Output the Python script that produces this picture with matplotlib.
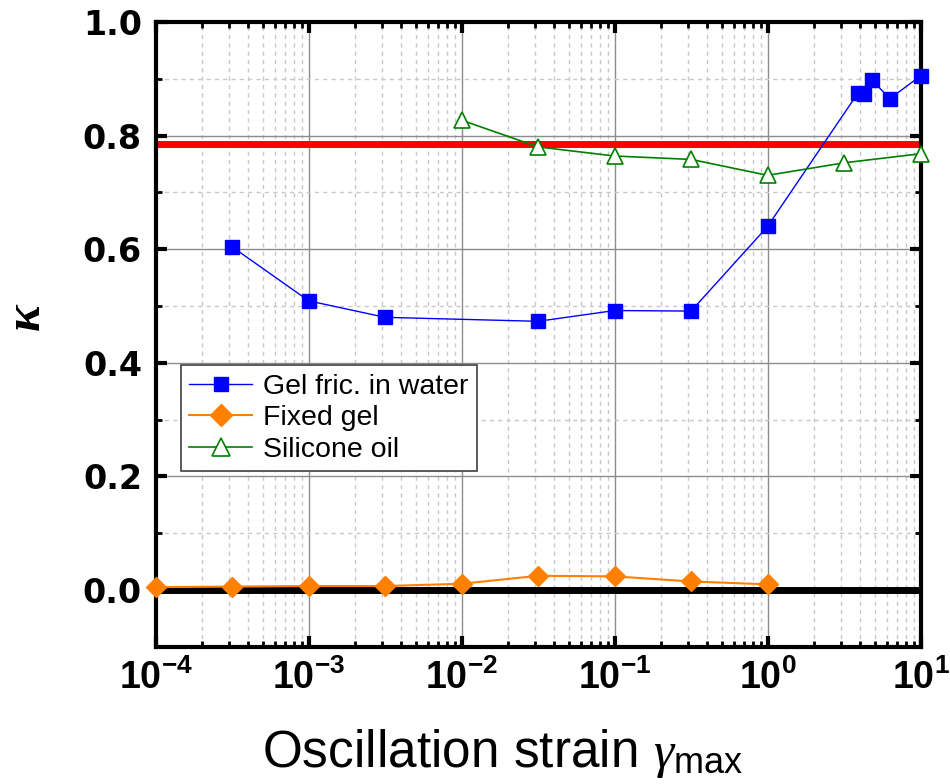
import numpy as np
import matplotlib.pyplot as plt
from matplotlib.ticker import LogLocator, MultipleLocator, NullFormatter

plt.rcParams["font.family"] = ["Liberation Sans", "DejaVu Sans"]
plt.rcParams["mathtext.fontset"] = "custom"
plt.rcParams["mathtext.rm"] = "Liberation Sans"
plt.rcParams["mathtext.it"] = "Liberation Serif:italic"
plt.rcParams["mathtext.bf"] = "Liberation Sans:bold"

# --- data ---
gel_x = [3.16e-4, 1e-3, 3.16e-3, 3.16e-2, 1e-1, 3.16e-1, 1.0, 3.9, 4.3, 4.8, 6.3, 10.0]
gel_y = [0.604, 0.509, 0.480, 0.473, 0.492, 0.491, 0.640, 0.875, 0.873, 0.898, 0.865, 0.905]

fixed_x = [1e-4, 3.16e-4, 1e-3, 3.16e-3, 1e-2, 3.16e-2, 1e-1, 3.16e-1, 1.0]
fixed_y = [0.005, 0.006, 0.007, 0.007, 0.011, 0.025, 0.024, 0.015, 0.010]

oil_x = [1e-2, 3.16e-2, 1e-1, 3.16e-1, 1.0, 3.16, 10.0]
oil_y = [0.827, 0.780, 0.764, 0.758, 0.730, 0.752, 0.768]

kappa_ref = 0.785

x_ticks = [1e-4, 1e-3, 1e-2, 1e-1, 1e0, 1e1]
x_ticklabels = [r"$\mathbf{10^{-4}}$", r"$\mathbf{10^{-3}}$", r"$\mathbf{10^{-2}}$",
                r"$\mathbf{10^{-1}}$", r"$\mathbf{10^{0}}$", r"$\mathbf{10^{1}}$"]
y_ticks = [0.0, 0.2, 0.4, 0.6, 0.8, 1.0]
y_ticklabels = ["0.0", "0.2", "0.4", "0.6", "0.8", "1.0"]

fig = plt.figure(figsize=(9.5, 7.84), dpi=100)
ax = fig.add_axes([0.164, 0.175, 0.805, 0.797])

ax.axhline(kappa_ref, color="#ff0000", lw=5, zorder=2)
ax.axhline(0.0, color="black", lw=5, zorder=2)

ax.plot(gel_x, gel_y, color="#0000ff", lw=1, marker="s", ms=9.5,
        mfc="#0000ff", mec="#0000ff", label="Gel fric. in water",
        zorder=4, clip_on=False)
ax.plot(fixed_x, fixed_y, color="#ff8000", lw=1.5, marker="D", ms=10.5,
        mfc="#ff8000", mec="#ff8000", label="Fixed gel",
        zorder=4, clip_on=False)
ax.plot(oil_x, oil_y, color="#008000", lw=1.2, marker="^", ms=12,
        mfc="white", mec="#008000", mew=1.2, label="Silicone oil",
        zorder=4, clip_on=False)

ax.set_xscale("log")
ax.set_xlim(1e-4, 10)
ax.set_ylim(-0.1, 1.0)
ax.xaxis.set_minor_locator(LogLocator(base=10, subs=np.arange(2, 10), numticks=20))
ax.xaxis.set_minor_formatter(NullFormatter())
ax.yaxis.set_minor_locator(MultipleLocator(0.1))
ax.set_xticks(x_ticks)
ax.set_xticklabels(x_ticklabels)
ax.set_yticks(y_ticks)
ax.set_yticklabels(y_ticklabels, fontfamily="DejaVu Sans", fontweight="bold")

ax.grid(which="major", color="#8c8c8c", lw=1, ls="-", zorder=0)
ax.grid(which="minor", color="#c8c8c8", lw=1, ls=(0, (3, 3)), zorder=0)
ax.set_axisbelow(True)

for s in ax.spines.values():
    s.set_linewidth(3)
ax.tick_params(which="major", direction="in", length=8, width=3,
               top=True, right=True)
ax.tick_params(axis="x", which="major", pad=9, labelsize=27)
ax.tick_params(axis="y", which="major", pad=10, labelsize=24)
ax.tick_params(which="minor", direction="in", length=4, width=2,
               top=True, right=True)

fig.text(262 / 950, 1 - 767 / 784, r"Oscillation strain $\gamma_{\rm max}$",
         fontsize=37, ha="left", va="baseline")
fig.text(27 / 950, 1 - 317 / 784, "κ", fontsize=36, fontfamily="Liberation Serif",
         fontstyle="italic", fontweight="bold", rotation=90,
         ha="center", va="center")

leg = ax.legend(loc="upper left", bbox_to_anchor=(0.0326, 0.451), fontsize=20.5,
                frameon=True, fancybox=False, framealpha=1, edgecolor="#404040",
                handlelength=2.2, borderpad=0.3, labelspacing=0.2,
                handletextpad=0.4, borderaxespad=0, markerscale=1.1)
leg.get_frame().set_linewidth(1.2)
leg.set_zorder(5)

fig.savefig("out.png", dpi=100)
